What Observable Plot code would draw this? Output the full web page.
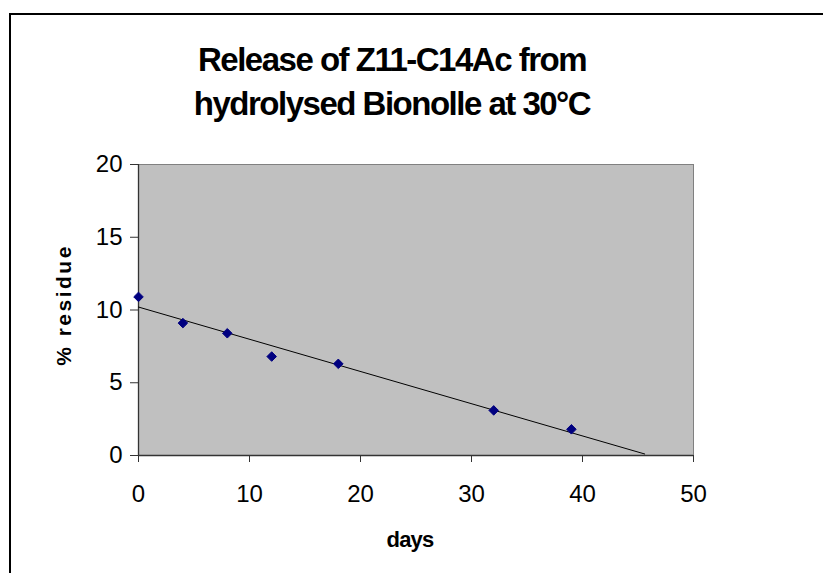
<!DOCTYPE html>
<html>
<head>
<meta charset="utf-8">
<script src="https://cdn.jsdelivr.net/npm/d3@7"></script>
<script src="https://cdn.jsdelivr.net/npm/@observablehq/plot@0.6"></script>
<style>
  html, body { margin: 0; padding: 0; background: #fff; }
  #wrap { position: relative; width: 823px; height: 573px; overflow: hidden; font-family: "Liberation Sans", Arial, sans-serif; }
  #border { position: absolute; left: 9px; top: 13px; width: 900px; height: 700px; border-left: 2px solid #000; border-top: 2px solid #000; }
  .title { position: absolute; left: 392px; transform: translateX(-50%); white-space: nowrap; font-weight: bold; font-size: 33px; letter-spacing: -1.5px; color: #000; line-height: 1; }
  .xlab { position: absolute; left: 410px; top: 529px; transform: translateX(-50%); font-weight: bold; font-size: 22px; letter-spacing: -0.8px; line-height: 1; }
  .ylab { position: absolute; left: 63px; top: 305px; transform: translate(-50%, -50%) rotate(-90deg); white-space: nowrap; font-weight: bold; font-size: 21px; letter-spacing: 2.5px; line-height: 1; }
  #chart { position: absolute; left: 0; top: 0; }
</style>
</head>
<body>
<div id="wrap">
  <div id="border"></div>
  <div id="chart"></div>
  <div class="title" style="top:43px">Release of Z11-C14Ac from</div>
  <div class="title" style="top:87px">hydrolysed Bionolle at 30°C</div>
  <div class="xlab">days</div>
  <div class="ylab">% residue</div>
</div>
<script>
// Data
const days = [0, 4, 8, 12, 18, 32, 39];
const residue = [10.9, 9.1, 8.4, 6.8, 6.3, 3.1, 1.8];
const xTicks = [0, 10, 20, 30, 40, 50];
const yTicks = [0, 5, 10, 15, 20];
const trendForecastEnd = 45.6; // trendline drawn forward to this day

const points = days.map((d, i) => ({day: d, value: residue[i]}));

// Linear least-squares trendline (as in the spreadsheet)
const n = days.length;
const mx = d3.mean(days), my = d3.mean(residue);
let sxy = 0, sxx = 0;
for (let i = 0; i < n; i++) { sxy += (days[i] - mx) * (residue[i] - my); sxx += (days[i] - mx) ** 2; }
const slope = sxy / sxx;
const intercept = my - slope * mx;
const trend = [0, trendForecastEnd].map(d => ({day: d, value: intercept + slope * d}));

const chart = Plot.plot({
  width: 823,
  height: 573,
  marginLeft: 138,
  marginRight: 130,
  marginTop: 164,
  marginBottom: 118,
  style: { fontFamily: "'Liberation Sans', Arial, sans-serif", fontSize: "24px", background: "transparent", color: "#000" },
  x: { domain: [0, 50] },
  y: { domain: [0, 20] },
  marks: [
    Plot.frame({ fill: "#c0c0c0", stroke: "#808080" }),
    Plot.axisX({ ticks: xTicks, tickSize: 7, tickPadding: 22, label: null, stroke: "#333", fill: "#000", fontSize: 24 }),
    Plot.axisY({ ticks: yTicks, tickSize: 8, tickPadding: 8, label: null, stroke: "#333", fill: "#000", fontSize: 24 }),
    Plot.ruleX([0], { stroke: "#333", strokeWidth: 1.3 }),
    Plot.ruleY([0], { stroke: "#333", strokeWidth: 1.3 }),
    Plot.line(trend, { x: "day", y: "value", stroke: "#000", strokeWidth: 1 }),
    Plot.dot(points, { x: "day", y: "value", symbol: "diamond2", r: 4.3, fill: "#000080", stroke: "#000080", strokeWidth: 1 })
  ]
});
document.getElementById("chart").appendChild(chart);
</script>
</body>
</html>
